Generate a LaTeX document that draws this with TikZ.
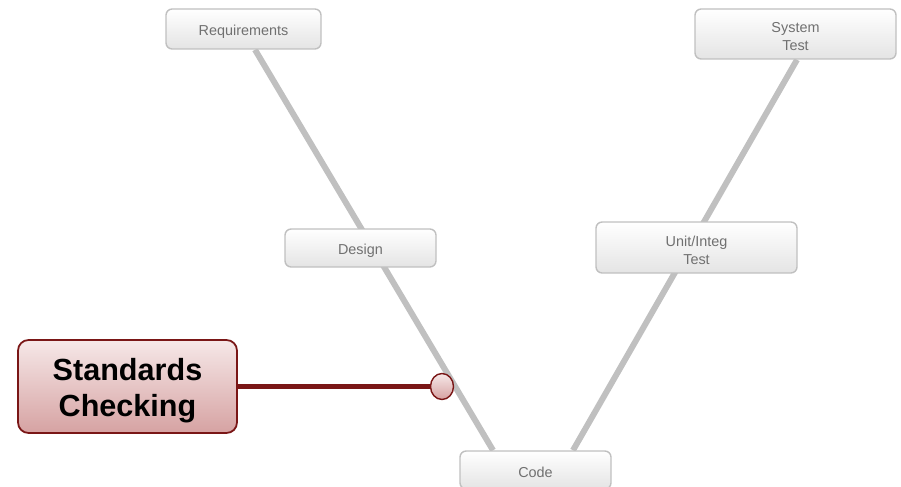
\documentclass[tikz,border=0pt]{standalone}
\usepackage{fontspec}
\setmainfont{Liberation Sans}
\usetikzlibrary{backgrounds, shapes.geometric}
\definecolor{boxline}{RGB}{192,192,192}
\definecolor{boxtext}{RGB}{112,112,112}
\definecolor{boxbot}{RGB}{228,228,228}
\definecolor{redline}{RGB}{122,22,22}
\definecolor{redtop}{RGB}{246,232,232}
\definecolor{redbot}{RGB}{214,162,162}
\tikzset{
    phase/.style = {draw=boxline, line width=0.8pt, rounded corners=3.5pt,
        top color=white, bottom color=boxbot, text=boxtext,
        font=\fontsize{8.2}{10.2}\selectfont, align=center, inner sep=0pt},
    vline/.style = {draw=boxline, line width=3.4pt},
    callout/.style = {draw=redline, line width=1pt, rounded corners=6pt,
        top color=redtop, bottom color=redbot, text=black,
        font=\fontsize{17.4}{20.5}\selectfont\bfseries, align=center,
        minimum width=4.38cm, minimum height=1.86cm, inner sep=0pt}
}
\begin{document}
\begin{tikzpicture}
    \useasboundingbox (0,0) rectangle (18.02,9.72);
    % phases of the V
    \node[phase, minimum width=3.1cm, minimum height=0.8cm] (req) at (4.87,9.14) {\rule{0pt}{0.32cm}Requirements};
    \node[phase, minimum width=4.02cm, minimum height=1.0cm] (sys) at (15.91,9.04) {\rule{0pt}{0.32cm}System\\Test};
    \node[phase, minimum width=3.02cm, minimum height=0.76cm] (des) at (7.21,4.76) {\rule{0pt}{0.32cm}Design};
    \node[phase, minimum width=4.02cm, minimum height=1.02cm] (unit) at (13.93,4.77) {\rule{0pt}{0.32cm}Unit/Integ\\Test};
    \node[phase, minimum width=3.02cm, minimum height=0.76cm] (code) at (10.71,0.32) {\rule{0pt}{0.32cm}Code};
    \begin{scope}[on background layer]
        \draw[vline] ([xshift=0.23cm]req.south) -- ([xshift=-0.85cm]code.north);
        \draw[vline] ([xshift=0.75cm]code.north) -- ([xshift=0.03cm]sys.south);
    \end{scope}
    % callout
    \node[callout] (std) at (2.55,1.99) {\rule{0pt}{0.6cm}Standards\\Checking};
    \node[draw=redline, line width=0.8pt, ellipse, top color=redtop, bottom color=redbot,
        minimum width=0.46cm, minimum height=0.52cm, inner sep=0pt] (dot) at (8.84,1.99) {};
    \draw[redline, line width=2.4pt] (std.east) -- (dot.west);
\end{tikzpicture}
\end{document}
